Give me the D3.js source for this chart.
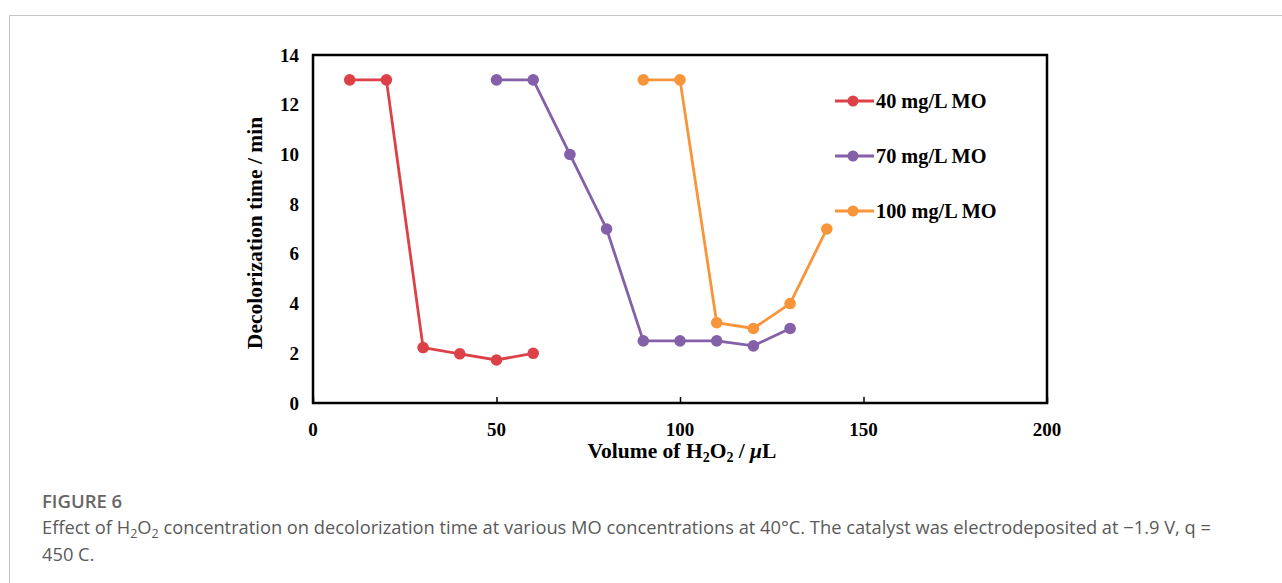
<!DOCTYPE html>
<html><head><meta charset="utf-8">
<script src="https://cdn.jsdelivr.net/npm/d3@7"></script>
<style>
body{margin:0;background:#fff;}
svg{display:block;}
</style></head>
<body>
<svg id="chart" width="1282" height="583"></svg>
<script>
const seriesNames = ["40 mg/L MO", "70 mg/L MO", "100 mg/L MO"];
const seriesColors = ["#dc4148", "#8360a8", "#f8943a"];
const x40 = [10, 20, 30, 40, 50, 60];
const y40 = [13, 13, 2.23, 1.98, 1.73, 2];
const x70 = [50, 60, 70, 80, 90, 100, 110, 120, 130];
const y70 = [13, 13, 10, 7, 2.5, 2.5, 2.5, 2.3, 3];
const x100 = [90, 100, 110, 120, 130, 140];
const y100 = [13, 13, 3.23, 3, 4, 7];
const xTicks = [0, 50, 100, 150, 200];
const yTicks = [0, 2, 4, 6, 8, 10, 12, 14];

const svg = d3.select("#chart");
svg.append("path").attr("d","M9.5,583 V15.5 H1282").attr("fill","none").attr("stroke","#c4c4c4").attr("stroke-width",1);

const L=313, R=1047, T=55, B=403;
const x = d3.scaleLinear().domain([0,200]).range([L,R]);
const y = d3.scaleLinear().domain([0,14]).range([B,T]);
const serif = "'Liberation Serif','Times New Roman',serif";

const g = svg.append("g");
const xAxis = d3.axisBottom(x).tickValues(xTicks).tickSize(-6).tickFormat("");
g.append("g").attr("transform",`translate(0,${B})`).call(xAxis)
  .call(s=>{s.select(".domain").remove(); s.selectAll("line").attr("stroke","#000").attr("stroke-width",1.5);});
g.append("rect").attr("x",L).attr("y",T).attr("width",R-L).attr("height",B-T)
  .attr("fill","none").attr("stroke","#000").attr("stroke-width",2.5);
g.selectAll(".xt").data(xTicks).join("text").attr("x",d=>x(d)).attr("y",436)
  .attr("text-anchor","middle").attr("font-family",serif).attr("font-weight","bold").attr("font-size",19).text(d=>d);
g.selectAll(".yt").data(yTicks).join("text").attr("x",299).attr("y",d=>y(d)+6.5)
  .attr("text-anchor","end").attr("font-family",serif).attr("font-weight","bold").attr("font-size",19).text(d=>d);

g.append("text").attr("transform","translate(262,233) rotate(-90)").attr("text-anchor","middle")
  .attr("font-family",serif).attr("font-weight","bold").attr("font-size",21.5).text("Decolorization time / min");
const xt = g.append("text").attr("x",682).attr("y",458).attr("text-anchor","middle")
  .attr("font-family",serif).attr("font-weight","bold").attr("font-size",21.5);
xt.append("tspan").text("Volume of H");
xt.append("tspan").attr("font-size",14).attr("dy",4).text("2");
xt.append("tspan").attr("dy",-4).text("O");
xt.append("tspan").attr("font-size",14).attr("dy",4).text("2");
xt.append("tspan").attr("dy",-4).text(" / ");
xt.append("tspan").attr("font-style","italic").text("μ");
xt.append("tspan").text("L");

const series = [
  {name:seriesNames[0], color:seriesColors[0], pts:x40.map((v,i)=>[v,y40[i]])},
  {name:seriesNames[1], color:seriesColors[1], pts:x70.map((v,i)=>[v,y70[i]])},
  {name:seriesNames[2], color:seriesColors[2], pts:x100.map((v,i)=>[v,y100[i]])}
];
const line = d3.line().x(d=>x(d[0])).y(d=>y(d[1]));
series.forEach(s=>{
  g.append("path").attr("d",line(s.pts)).attr("fill","none").attr("stroke",s.color).attr("stroke-width",2.8);
  g.selectAll(null).data(s.pts).join("circle").attr("cx",d=>x(d[0])).attr("cy",d=>y(d[1])).attr("r",5.8).attr("fill",s.color);
});

series.forEach((s,i)=>{
  const ly = 101 + i*55;
  g.append("line").attr("x1",835).attr("x2",874).attr("y1",ly).attr("y2",ly).attr("stroke",s.color).attr("stroke-width",2.8);
  g.append("circle").attr("cx",853).attr("cy",ly).attr("r",5.5).attr("fill",s.color);
  g.append("text").attr("x",876).attr("y",ly+7).attr("font-family",serif).attr("font-weight","bold").attr("font-size",20.3).text(s.name);
});

const sans = "'Open Sans','Noto Sans',sans-serif";
svg.append("text").attr("x",42).attr("y",508).attr("font-family",sans).attr("font-weight",600).attr("font-size",18.5).attr("fill","#666").text("FIGURE 6");
const c1 = svg.append("text").attr("x",42).attr("y",534).attr("font-family",sans).attr("font-size",18.3).attr("fill","#5a5a5a");
c1.append("tspan").text("Effect of H");
c1.append("tspan").attr("font-size",12.5).attr("dy",4).text("2");
c1.append("tspan").attr("dy",-4).text("O");
c1.append("tspan").attr("font-size",12.5).attr("dy",4).text("2");
c1.append("tspan").attr("dy",-4).text(" concentration on decolorization time at various MO concentrations at 40°C. The catalyst was electrodeposited at \u22121.9 V, q =");
svg.append("text").attr("x",42).attr("y",561).attr("font-family",sans).attr("font-size",18.3).attr("fill","#5a5a5a").text("450 C.");
</script>
</body></html>
